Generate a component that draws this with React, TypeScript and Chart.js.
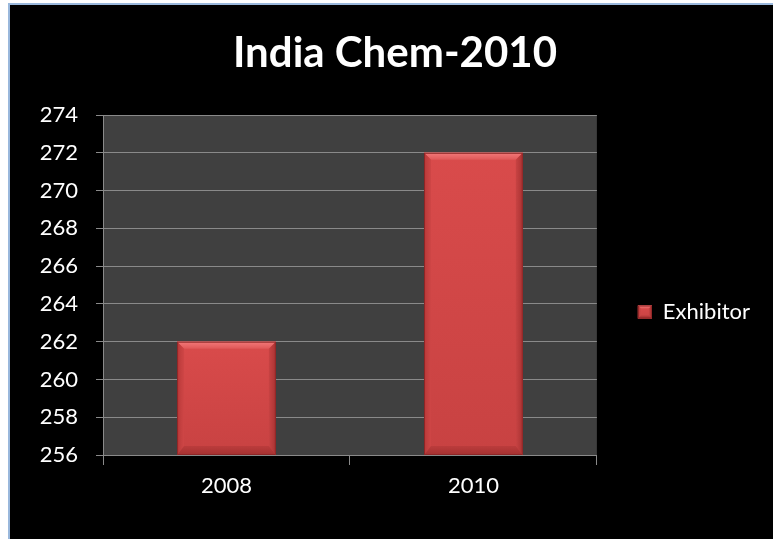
import React, { useEffect, useRef } from 'react';
import { Chart, registerables } from 'chart.js';

Chart.register(...registerables);

const chartTitle = 'India Chem-2010';
const categories = ['2008', '2010'];
const seriesLabel = 'Exhibitor';
const exhibitorValues = [262, 272];
const yMin = 256;
const yMax = 274;
const yStep = 2;

const FONT = 'Lato, "Open Sans", sans-serif';
const GRID = '#8a8a8a';

function bevelRect(ctx: CanvasRenderingContext2D, x0: number, y0: number, x1: number, y1: number, t: number, s: number, b: number) {
  const face = ctx.createLinearGradient(0, y0, 0, y1);
  face.addColorStop(0, '#d94b4b');
  face.addColorStop(1, '#c84242');
  ctx.save();
  ctx.fillStyle = face;
  ctx.fillRect(x0, y0, x1 - x0, y1 - y0);
  const tg = ctx.createLinearGradient(0, y0, 0, y0 + t);
  tg.addColorStop(0, '#f27a7a');
  tg.addColorStop(1, '#e05858');
  ctx.fillStyle = tg;
  ctx.beginPath();
  ctx.moveTo(x0, y0); ctx.lineTo(x1, y0); ctx.lineTo(x1 - s, y0 + t); ctx.lineTo(x0 + s, y0 + t); ctx.closePath();
  ctx.fill();
  const lg = ctx.createLinearGradient(x0, 0, x0 + s, 0);
  lg.addColorStop(0, '#b83939');
  lg.addColorStop(1, '#cf4646');
  ctx.fillStyle = lg;
  ctx.beginPath();
  ctx.moveTo(x0, y0); ctx.lineTo(x0 + s, y0 + t); ctx.lineTo(x0 + s, y1 - b); ctx.lineTo(x0, y1); ctx.closePath();
  ctx.fill();
  const rg = ctx.createLinearGradient(x1 - s, 0, x1, 0);
  rg.addColorStop(0, '#c84343');
  rg.addColorStop(1, '#a93333');
  ctx.fillStyle = rg;
  ctx.beginPath();
  ctx.moveTo(x1, y0); ctx.lineTo(x1 - s, y0 + t); ctx.lineTo(x1 - s, y1 - b); ctx.lineTo(x1, y1); ctx.closePath();
  ctx.fill();
  const bg = ctx.createLinearGradient(0, y1 - b, 0, y1);
  bg.addColorStop(0, '#bb3c3c');
  bg.addColorStop(1, '#a53131');
  ctx.fillStyle = bg;
  ctx.beginPath();
  ctx.moveTo(x0, y1); ctx.lineTo(x0 + s, y1 - b); ctx.lineTo(x1 - s, y1 - b); ctx.lineTo(x1, y1); ctx.closePath();
  ctx.fill();
  ctx.strokeStyle = '#8e2626';
  ctx.lineWidth = 1;
  ctx.strokeRect(x0 + 0.5, y0 + 0.5, x1 - x0 - 1, y1 - y0 - 1);
  ctx.restore();
}

const plotBgPlugin = {
  id: 'plotBg',
  beforeDraw(chart: any) {
    const { ctx, chartArea } = chart;
    ctx.save();
    ctx.fillStyle = '#404040';
    ctx.fillRect(chartArea.left, chartArea.top, chartArea.right - chartArea.left, chartArea.bottom - chartArea.top);
    ctx.restore();
  },
};

const bevelPlugin = {
  id: 'bevel',
  afterDatasetsDraw(chart: any) {
    const { ctx, chartArea } = chart;
    const meta = chart.getDatasetMeta(0);
    meta.data.forEach((bar: any) => {
      const x0 = bar.x - bar.width / 2;
      const x1 = bar.x + bar.width / 2;
      const y0 = Math.max(Math.min(bar.y, bar.base), chartArea.top);
      const y1 = Math.min(Math.max(bar.y, bar.base), chartArea.bottom);
      bevelRect(ctx, x0, y0, x1, y1, 7, 7, 9);
    });
  },
  afterDraw(chart: any) {
    const lg = chart.legend;
    if (!lg || !lg.legendHitBoxes || !lg.legendHitBoxes.length) return;
    const hb = lg.legendHitBoxes[0];
    const fontSize = 22;
    const bw = 14, bh = 13;
    const x0 = hb.left;
    const y0 = hb.top + Math.max((fontSize - bh) / 2, 0);
    bevelRect(chart.ctx, x0, y0, x0 + bw, y0 + bh, 3, 3, 3);
  },
};

export default function App() {
  const canvasRef = useRef<HTMLCanvasElement | null>(null);

  useEffect(() => {
    const canvas = canvasRef.current;
    if (!canvas) return;
    const chart = new Chart(canvas, {
      type: 'bar',
      data: {
        labels: categories,
        datasets: [
          {
            label: seriesLabel,
            data: exhibitorValues,
            backgroundColor: '#d04444',
            borderColor: '#8e2626',
            borderWidth: 0,
            barPercentage: 0.4,
            categoryPercentage: 1,
          },
        ],
      },
      options: {
        responsive: false,
        animation: false,
        devicePixelRatio: 1,
        layout: { padding: { left: 20, right: 13, top: 0, bottom: 0 } },
        plugins: {
          title: {
            display: true,
            text: chartTitle,
            color: '#ffffff',
            font: { family: FONT, size: 42, weight: 'bold', lineHeight: 1.2 },
            padding: { top: 23, bottom: 36.6 },
          },
          legend: {
            display: true,
            position: 'right',
            maxWidth: 171,
            title: { display: true, text: '', padding: { top: 0, bottom: 65.6 }, font: { size: 12, lineHeight: 1.2 } },
            labels: {
              color: '#ffffff',
              font: { family: FONT, size: 22 },
              boxWidth: 14,
              boxHeight: 13,
              padding: 41,
            },
          },
          tooltip: { enabled: false },
        },
        scales: {
          x: {
            offset: true,
            afterFit: (s: any) => { s.height = 84; },
            grid: { display: true, drawOnChartArea: false, drawTicks: true, tickLength: 10, color: GRID, offset: true },
            border: { display: true, color: GRID, width: 1 },
            ticks: { color: '#ffffff', font: { family: FONT, size: 22 }, padding: 8 },
          },
          y: {
            min: yMin,
            max: yMax,
            afterFit: (s: any) => { s.width = 73; },
            grid: { display: true, drawOnChartArea: true, drawTicks: true, tickLength: 7, color: GRID },
            border: { display: true, color: GRID, width: 1 },
            ticks: { stepSize: yStep, color: '#ffffff', font: { family: FONT, size: 22 }, padding: 18 },
          },
        },
      },
      plugins: [plotBgPlugin, bevelPlugin],
    } as any);
    return () => chart.destroy();
  }, []);

  return (
    <div
      style={{
        position: 'absolute',
        left: 8,
        top: 3,
        width: 765,
        height: 536,
        boxSizing: 'border-box',
        borderLeft: '2px solid #9ab8dc',
        borderTop: '2px solid #9ab8dc',
        background: '#000000',
        overflow: 'hidden',
      }}
    >
      <canvas ref={canvasRef} width={763} height={534} style={{ display: 'block', width: 763, height: 534 }} />
    </div>
  );
}
